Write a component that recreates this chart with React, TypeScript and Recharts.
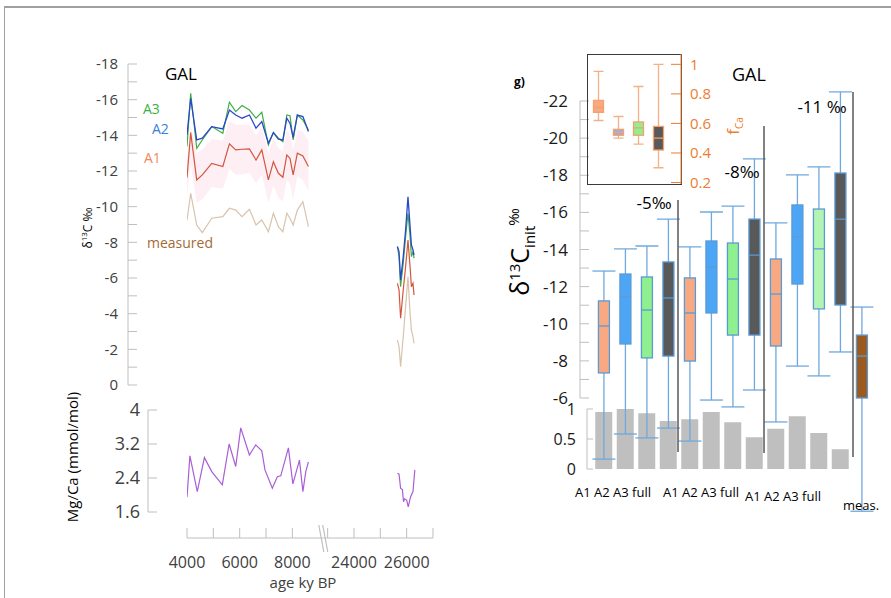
import React from "react";
import { ComposedChart, Line, Area, Bar, XAxis, YAxis } from "recharts";

const FONT = "'Open Sans', 'Noto Sans', sans-serif";
const AXIS_GREY = "#bfbfbf";
const TEXT_GREY = "#404040";

// ---------- left panel: d13C and Mg/Ca versus age (years BP) ----------
const ageEarly = [4000, 4140, 4370, 4580, 4940, 5360, 5610, 5850, 6090, 6370, 6620, 6840, 7090, 7280, 7470, 7640, 7790, 7910, 8030, 8190, 8400, 8610];
const a3Early = [-13.37, -16.36, -13.27, -13.74, -14.49, -14.12, -15.86, -15.33, -15.67, -15.42, -14.96, -15.29, -13.46, -14.17, -13.84, -13.65, -15.14, -15.1, -13.74, -15.14, -14.86, -14.3];
const a2Early = [-14.02, -16.08, -13.74, -13.84, -14.49, -14.36, -15.42, -15.14, -14.96, -15.14, -14.4, -14.77, -13.56, -14.15, -13.78, -13.74, -14.96, -14.68, -13.89, -15.14, -15.05, -14.21];
const a1Early = [-11.63, -14.15, -11.5, -11.78, -12.43, -12.25, -13.52, -13.18, -13.22, -13.24, -12.62, -13.18, -11.5, -12.52, -11.87, -11.65, -12.9, -12.71, -11.78, -13.0, -12.84, -12.25];
const a1BandHi = [-12.6, -14.6, -13.0, -13.2, -13.8, -13.7, -14.8, -14.6, -14.6, -14.6, -14.0, -14.5, -13.0, -13.8, -13.3, -13.1, -14.3, -14.1, -13.2, -14.3, -14.2, -13.7];
const a1BandLo = [-10.6, -12.4, -10.2, -10.4, -11.1, -11.0, -12.1, -11.8, -11.8, -11.9, -11.3, -11.8, -10.2, -11.2, -10.5, -10.3, -11.5, -11.3, -10.4, -11.7, -11.5, -10.9];
const measEarly = [-9.25, -10.75, -8.97, -8.54, -9.35, -9.44, -9.91, -9.81, -9.44, -9.85, -8.97, -9.25, -8.6, -9.63, -8.88, -8.6, -9.63, -9.35, -8.97, -9.81, -10.28, -8.88];

const ageLate = [25650, 25710, 25770, 25870, 25960, 26050, 26130, 26180, 26240, 26280];
const a3Late = [-7.76, -7.2, -5.51, -6.83, -8.32, -9.63, -8.32, -7.2, -7.48, -7.11];
const a2Late = [-7.76, -7.48, -5.89, -7.2, -8.69, -10.56, -8.88, -7.85, -7.57, -7.29];
const a1Late = [-5.7, -5.33, -3.74, -5.33, -6.63, -8.13, -6.63, -5.51, -5.7, -5.05];
const measLate = [-2.52, -2.15, -1.03, -2.71, -4.39, -6.07, -4.02, -3.08, -2.71, -2.34];

const mgAgeEarly = [4000, 4110, 4390, 4660, 4940, 5340, 5600, 5850, 6040, 6370, 6610, 6840, 6960, 7240, 7430, 7560, 7850, 8020, 8270, 8400, 8510, 8610];
const mgEarly = [1.95, 2.92, 2.08, 2.88, 2.55, 2.24, 3.2, 2.67, 3.58, 2.94, 3.18, 3.04, 2.59, 2.16, 2.43, 2.45, 3.11, 2.26, 2.82, 2.08, 2.55, 2.78];
const mgAgeLate = [25650, 25710, 25770, 25840, 25880, 25920, 26000, 26060, 26150, 26240, 26310];
const mgLate = [2.51, 2.49, 2.16, 2.12, 1.84, 1.91, 1.88, 1.72, 1.96, 2.08, 2.59];

const deltaLeftTicks = [-18, -17, -16, -15, -14, -13, -12, -11, -10, -9, -8, -7, -6, -5, -4, -3, -2, -1, 0];
const deltaLeftLabels = [-18, -16, -14, -12, -10, -8, -6, -4, -2, 0];
const mgTicks = [1.6, 2.4, 3.2, 4];
const ageTicks = [4000, 5000, 6000, 7000, 8000, 23000, 24000, 25000, 26000, 27000];
const ageLabels = [4000, 6000, 8000, 24000, 26000];

// broken age axis: everything after the break is pulled left
const BREAK_SHIFT = 13660;
const BREAK_GAP = 9170;
const toAxis = (age: number) => (age > 9500 ? age - BREAK_SHIFT : age);
const breakMarks = [9080, 9230];

const deltaRows = [
  ...ageEarly.map((age, i) => ({
    t: toAxis(age),
    a3: a3Early[i],
    a2: a2Early[i],
    a1: a1Early[i],
    meas: measEarly[i],
    band: [a1BandLo[i], a1BandHi[i]],
  })),
  { t: BREAK_GAP },
  ...ageLate.map((age, i) => ({ t: toAxis(age), a3: a3Late[i], a2: a2Late[i], a1: a1Late[i], meas: measLate[i] })),
];

const mgRows = [
  ...mgAgeEarly.map((age, i) => ({ t: toAxis(age), mg: mgEarly[i] })),
  { t: BREAK_GAP },
  ...mgAgeLate.map((age, i) => ({ t: toAxis(age), mg: mgLate[i] })),
];

// ---------- right panel: d13C_init box plots, fCa bars, fCa inset ----------
const boxSlots = ["A1", "A2", "A3", "full", "A1 ", "A2 ", "A3 ", "full ", "A1  ", "A2  ", "A3  ", "full  ", "meas."];
const boxWhiskerTop = [-12.84, -14.03, -14.19, -15.64, -14.14, -16.02, -16.34, -18.88, -15.43, -18.02, -18.45, -22.49, -10.9];
const boxUpper = [-11.23, -12.68, -12.52, -13.33, -12.47, -14.46, -14.35, -15.64, -13.49, -16.4, -16.18, -18.12, -9.39];
const boxMedian = [-9.88, -11.44, -10.74, -11.39, -10.58, -13.06, -12.41, -13.7, -11.6, -14.67, -14.03, -15.64, -8.26];
const boxLower = [-7.35, -8.91, -8.16, -8.26, -7.99, -10.58, -9.39, -9.39, -8.8, -12.14, -10.8, -11.01, -6.0];
const boxWhiskerBottom = [-2.71, -4.06, -3.85, -4.38, -3.68, -5.89, -5.52, -6.43, -4.71, -7.72, -7.19, -8.48, 0.1];
const fCaMean = [0.95, 1.0, 0.93, 0.8, 0.83, 0.95, 0.78, 0.53, 0.67, 0.88, 0.6, 0.33, null];

const deltaRightTicks = [-22, -21, -20, -19, -18, -17, -16, -15, -14, -13, -12, -11, -10, -9, -8, -7, -6];
const deltaRightLabels = [-22, -20, -18, -16, -14, -12, -10, -8, -6];
const fracTicks = [0, 0.5, 1];

const insetSlots = ["A1", "A2", "A3", "full"];
const insetWhiskerTop = [0.953, 0.647, 0.85, 1.0];
const insetUpper = [0.756, 0.56, 0.61, 0.58];
const insetMedian = [0.708, 0.54, 0.57, 0.5];
const insetLower = [0.675, 0.52, 0.52, 0.42];
const insetWhiskerBottom = [0.62, 0.5, 0.46, 0.3];
const insetTicks = [0.2, 0.4, 0.6, 0.8, 1];

const boxRows = boxSlots.map((slot, i) => ({
  slot,
  wTop: boxWhiskerTop[i],
  qTop: boxUpper[i],
  med: boxMedian[i],
  qBottom: boxLower[i],
  wBottom: boxWhiskerBottom[i],
  frac: fCaMean[i],
}));

const insetRows = insetSlots.map((slot, i) => ({
  slot,
  wTop: insetWhiskerTop[i],
  qTop: insetUpper[i],
  med: insetMedian[i],
  qBottom: insetLower[i],
  wBottom: insetWhiskerBottom[i],
}));

const BOX_FILLS = ["#f8a981", "#4da6f5", "#8ef08e", "#595959", "#f8a981", "#4da6f5", "#8ef08e", "#595959", "#f8a981", "#4da6f5", "#b2f5b2", "#595959", "#9c5a1f"];
const INSET_FILLS = ["#f8a981", "#9aaee0", "#8ef08e", "#595959"];
const ORANGE = "#ed7d31";

type TickOpts = {
  side: "left" | "right";
  gap: number;
  len: number;
  labels: number[];
  color: string;
  lineColor: string;
  size: number;
};

function yTick(o: TickOpts) {
  return (p: any) => {
    const v = p.payload.value;
    const dir = o.side === "left" ? 1 : -1;
    const axisX = p.x + dir * o.gap;
    const show = o.labels.some((l) => Math.abs(l - v) < 1e-6);
    return (
      <g>
        <line x1={axisX} x2={axisX + dir * o.len} y1={p.y} y2={p.y} stroke={o.lineColor} strokeWidth={1} />
        {show && (
          <text
            x={p.x}
            y={p.y}
            dy="0.36em"
            textAnchor={o.side === "left" ? "end" : "start"}
            fontSize={o.size}
            fill={o.color}
            fontFamily={FONT}
          >
            {String(v)}
          </text>
        )}
      </g>
    );
  };
}

const AgeTick = (p: any) => {
  const t = p.payload.value;
  if (breakMarks.includes(t)) {
    return <line x1={p.x - 2} y1={p.y - 13} x2={p.x + 3} y2={p.y + 14} stroke={AXIS_GREY} strokeWidth={1.2} />;
  }
  const age = t > BREAK_GAP ? t + BREAK_SHIFT : t;
  return (
    <g>
      <line x1={p.x} x2={p.x} y1={p.y} y2={p.y - 10} stroke={AXIS_GREY} />
      {ageLabels.includes(age) && (
        <text x={p.x} y={p.y + 24} dy="0.36em" textAnchor="middle" fontSize={16} fill={TEXT_GREY} fontFamily={FONT}>
          {age}
        </text>
      )}
    </g>
  );
};

type BoxStyle = { boxW: number; capW: number; whisker: string; edge: string; fills: string[] };

function boxShape(s: BoxStyle) {
  return (props: any) => {
    const { x, y, width, height, payload, index } = props;
    if (!payload || height == null || isNaN(y)) return <g />;
    const top = Math.min(y, y + height);
    const bottom = Math.max(y, y + height);
    const py = (v: number) => top + ((v - payload.wTop) / (payload.wBottom - payload.wTop)) * (bottom - top);
    const cx = x + width / 2;
    const yu = py(payload.qTop);
    const yl = py(payload.qBottom);
    const ym = py(payload.med);
    return (
      <g>
        <line x1={cx} x2={cx} y1={top} y2={bottom} stroke={s.whisker} strokeWidth={1.3} />
        <line x1={cx - s.capW / 2} x2={cx + s.capW / 2} y1={top} y2={top} stroke={s.whisker} strokeWidth={1.3} />
        <line x1={cx - s.capW / 2} x2={cx + s.capW / 2} y1={bottom} y2={bottom} stroke={s.whisker} strokeWidth={1.3} />
        <rect x={cx - s.boxW / 2} y={Math.min(yu, yl)} width={s.boxW} height={Math.abs(yl - yu)} fill={s.fills[index]} stroke={s.edge} strokeWidth={1.3} />
        <line x1={cx - s.boxW / 2} x2={cx + s.boxW / 2} y1={ym} y2={ym} stroke={s.edge} strokeWidth={1.3} />
      </g>
    );
  };
}

const abs = (left: number, top: number): React.CSSProperties => ({ position: "absolute", left, top });

export default function App() {
  return (
    <div style={{ position: "absolute", left: 0, top: 0, width: 891, height: 598, background: "#fff", overflow: "hidden", fontFamily: FONT }}>
      <div style={{ position: "absolute", left: 4, top: 6, width: 900, height: 600, borderTop: "2px solid #a0a0a0", borderLeft: "1px solid #a0a0a0" }} />

      {/* left: d13C */}
      <div style={abs(0, 0)}>
        <ComposedChart width={460} height={400} data={deltaRows} margin={{ top: 64, right: 27, bottom: 15, left: 88 }}>
          <XAxis dataKey="t" type="number" domain={[4000, 13340]} hide padding={{ left: 59, right: 0 }} allowDataOverflow />
          <YAxis
            width={40}
            type="number"
            domain={[-18, 0]}
            reversed
            allowDataOverflow
            ticks={deltaLeftTicks}
            interval={0}
            tickSize={0}
            tickMargin={10}
            axisLine={{ stroke: AXIS_GREY }}
            tickLine={false}
            tick={yTick({ side: "left", gap: 10, len: 9, labels: deltaLeftLabels, color: TEXT_GREY, lineColor: AXIS_GREY, size: 15 })}
          />
          <Area dataKey="band" stroke="none" fill="#fce4ec" fillOpacity={0.6} isAnimationActive={false} />
          <Line dataKey="meas" stroke="#d8c3ae" strokeWidth={1.2} dot={false} isAnimationActive={false} />
          <Line dataKey="a1" stroke="#d4553e" strokeWidth={1.2} dot={false} isAnimationActive={false} />
          <Line dataKey="a3" stroke="#3fae49" strokeWidth={1.2} dot={false} isAnimationActive={false} />
          <Line dataKey="a2" stroke="#2b47c9" strokeWidth={1.3} dot={false} isAnimationActive={false} />
        </ComposedChart>
      </div>

      {/* left: Mg/Ca */}
      <div style={abs(0, 380)}>
        <ComposedChart width={460} height={150} data={mgRows} margin={{ top: 30, right: 27, bottom: 18, left: 108 }}>
          <XAxis dataKey="t" type="number" domain={[4000, 13340]} hide padding={{ left: 39, right: 0 }} allowDataOverflow />
          <YAxis
            width={40}
            type="number"
            domain={[1.6, 4]}
            allowDataOverflow
            ticks={mgTicks}
            interval={0}
            tickSize={0}
            tickMargin={8}
            axisLine={{ stroke: AXIS_GREY }}
            tickLine={false}
            tick={yTick({ side: "left", gap: 8, len: 9, labels: mgTicks, color: TEXT_GREY, lineColor: AXIS_GREY, size: 18 })}
          />
          <Line dataKey="mg" stroke="#a95ed6" strokeWidth={1.2} dot={false} isAnimationActive={false} />
        </ComposedChart>
      </div>

      {/* left: broken age axis */}
      <div style={abs(0, 500)}>
        <ComposedChart width={460} height={98} data={mgRows} margin={{ top: 20, right: 27, bottom: 0, left: 187 }}>
          <XAxis
            dataKey="t"
            type="number"
            domain={[4000, 13340]}
            allowDataOverflow
            ticks={[...ageTicks.map(toAxis), ...breakMarks].sort((a, b) => a - b)}
            interval={0}
            tickSize={0}
            tickMargin={0}
            height={60}
            axisLine={{ stroke: AXIS_GREY }}
            tickLine={false}
            tick={AgeTick}
          />
          <YAxis hide domain={[1.6, 4]} />
        </ComposedChart>
      </div>

      {/* right: fCa bars (behind the boxes) */}
      <div style={abs(0, 0)}>
        <ComposedChart width={891} height={490} data={boxRows} margin={{ top: 409, right: 18.25, bottom: 21, left: 547 }}>
          <XAxis dataKey="slot" hide padding={{ left: 6.25, right: 0 }} />
          <YAxis
            width={40}
            type="number"
            domain={[0, 1]}
            allowDataOverflow
            ticks={fracTicks}
            interval={0}
            tickSize={0}
            tickMargin={11}
            axisLine={{ stroke: AXIS_GREY }}
            tickLine={false}
            tick={yTick({ side: "left", gap: 11, len: 6, labels: fracTicks, color: "#1a1a1a", lineColor: AXIS_GREY, size: 16 })}
          />
          <Bar dataKey="frac" fill="#bfbfbf" barSize={17} isAnimationActive={false} />
        </ComposedChart>
      </div>

      {/* right: d13C_init axis */}
      <div style={abs(0, 0)}>
        <ComposedChart width={891} height={420} data={boxRows} margin={{ top: 101, right: 300, bottom: 22, left: 530 }}>
          <XAxis dataKey="slot" hide />
          <YAxis
            width={50}
            type="number"
            domain={[-22, -6]}
            reversed
            allowDataOverflow
            ticks={deltaRightTicks}
            interval={0}
            tickSize={0}
            tickMargin={12}
            axisLine={{ stroke: AXIS_GREY }}
            tickLine={false}
            tick={yTick({ side: "left", gap: 12, len: 9, labels: deltaRightLabels, color: "#1a1a1a", lineColor: AXIS_GREY, size: 17 })}
          />
        </ComposedChart>
      </div>

      {/* right: box plots */}
      <div style={abs(0, 0)}>
        <ComposedChart width={891} height={540} data={boxRows} margin={{ top: 82.44, right: 18.25, bottom: 12.06, left: 593.25 }}>
          <XAxis dataKey="slot" hide />
          <YAxis hide type="number" domain={[-23, 1]} reversed allowDataOverflow />
          <Bar
            dataKey={(d: any) => [d.wBottom, d.wTop]}
            barSize={23}
            isAnimationActive={false}
            shape={boxShape({ boxW: 11, capW: 23, whisker: "#6fa8dc", edge: "#5b9bd5", fills: BOX_FILLS })}
          />
        </ComposedChart>
      </div>

      {/* inset: fCa */}
      <div style={{ position: "absolute", left: 587, top: 54, width: 93, height: 129, border: "1px solid #3a3a3a" }} />
      <div style={abs(0, 0)}>
        <ComposedChart width={891} height={200} data={insetRows} margin={{ top: 54, right: 170, bottom: 16, left: 588 }}>
          <XAxis dataKey="slot" hide padding={{ left: 0, right: 13 }} />
          <YAxis
            orientation="right"
            width={40}
            type="number"
            domain={[0.19, 1.07]}
            allowDataOverflow
            ticks={insetTicks}
            interval={0}
            tickSize={0}
            tickMargin={9}
            axisLine={{ stroke: ORANGE }}
            tickLine={false}
            tick={yTick({ side: "right", gap: 9, len: 10, labels: insetTicks, color: ORANGE, lineColor: ORANGE, size: 15 })}
          />
          <Bar
            dataKey={(d: any) => [d.wBottom, d.wTop]}
            barSize={11}
            isAnimationActive={false}
            shape={boxShape({ boxW: 10, capW: 10, whisker: "#f4b183", edge: "#f2a16f", fills: INSET_FILLS })}
          />
        </ComposedChart>
      </div>

      {/* annotations */}
      <svg width={891} height={598} style={{ position: "absolute", left: 0, top: 0, pointerEvents: "none" }} fontFamily={FONT}>
        <text x={165} y={74} dy="0.36em" fontSize={17} fill="#000">GAL</text>
        <text x={143} y={109} dy="0.36em" fontSize={14} fill="#3cb043">A3</text>
        <text x={152} y={129} dy="0.36em" fontSize={14} fill="#3a7fdc">A2</text>
        <text x={144} y={158} dy="0.36em" fontSize={14} fill="#ef8a5a">A1</text>
        <text x={147} y={243} dy="0.36em" fontSize={14} fill="#a46a36">measured</text>
        <text x={303} y={583} dy="0.36em" fontSize={15} fill={TEXT_GREY} textAnchor="middle">age ky BP</text>
        <text transform="rotate(-90 88 228)" x={88} y={228} dy="0.36em" fontSize={12} fill="#000" textAnchor="middle">
          δ<tspan fontSize={8} dy={-5}>13</tspan><tspan dy={5}>C ‰</tspan>
        </text>
        <text transform="rotate(-90 73 457)" x={73} y={457} dy="0.36em" fontSize={15} fill="#000" textAnchor="middle">
          Mg/Ca (mmol/mol)
        </text>

        <text x={514} y={82} dy="0.36em" fontSize={12} fontWeight={700} fill="#000">g)</text>
        <text x={732} y={75} dy="0.36em" fontSize={18} fill="#000">GAL</text>
        <text x={654} y={203} dy="0.36em" fontSize={17} fill="#000" textAnchor="middle">-5‰</text>
        <text x={742} y={172} dy="0.36em" fontSize={17} fill="#000" textAnchor="middle">-8‰</text>
        <text x={822} y={107} dy="0.36em" fontSize={17} fill="#000" textAnchor="middle">-11 ‰</text>
        <text transform="rotate(-90 520 252)" x={520} y={252} dy="0.36em" fontSize={25} fill="#000" textAnchor="middle">
          δ<tspan fontSize={15} dy={-9}>13</tspan><tspan dy={9}>C</tspan><tspan fontSize={15} dy={6}>init</tspan><tspan fontSize={15} dy={-16}>‰</tspan>
        </text>
        <text transform="rotate(-90 733 126)" x={733} y={126} dy="0.36em" fontSize={17} fill={ORANGE} textAnchor="middle">
          f<tspan fontSize={10} dy={4}>Ca</tspan>
        </text>

        <line x1={678} x2={678} y1={200} y2={452} stroke="#595959" strokeWidth={1.5} />
        <line x1={764} x2={764} y1={126} y2={453} stroke="#595959" strokeWidth={1.5} />
        <line x1={853} x2={853} y1={92} y2={457} stroke="#595959" strokeWidth={1.5} />

        <text x={575} y={492} dy="0.36em" fontSize={13} fill="#000">A1 A2 A3 full</text>
        <text x={663} y={492} dy="0.36em" fontSize={13} fill="#000">A1 A2 A3 full</text>
        <text x={745} y={496} dy="0.36em" fontSize={13} fill="#000">A1 A2 A3 full</text>
        <text x={843} y={505} dy="0.36em" fontSize={13} fill="#000">meas.</text>
      </svg>
    </div>
  );
}
